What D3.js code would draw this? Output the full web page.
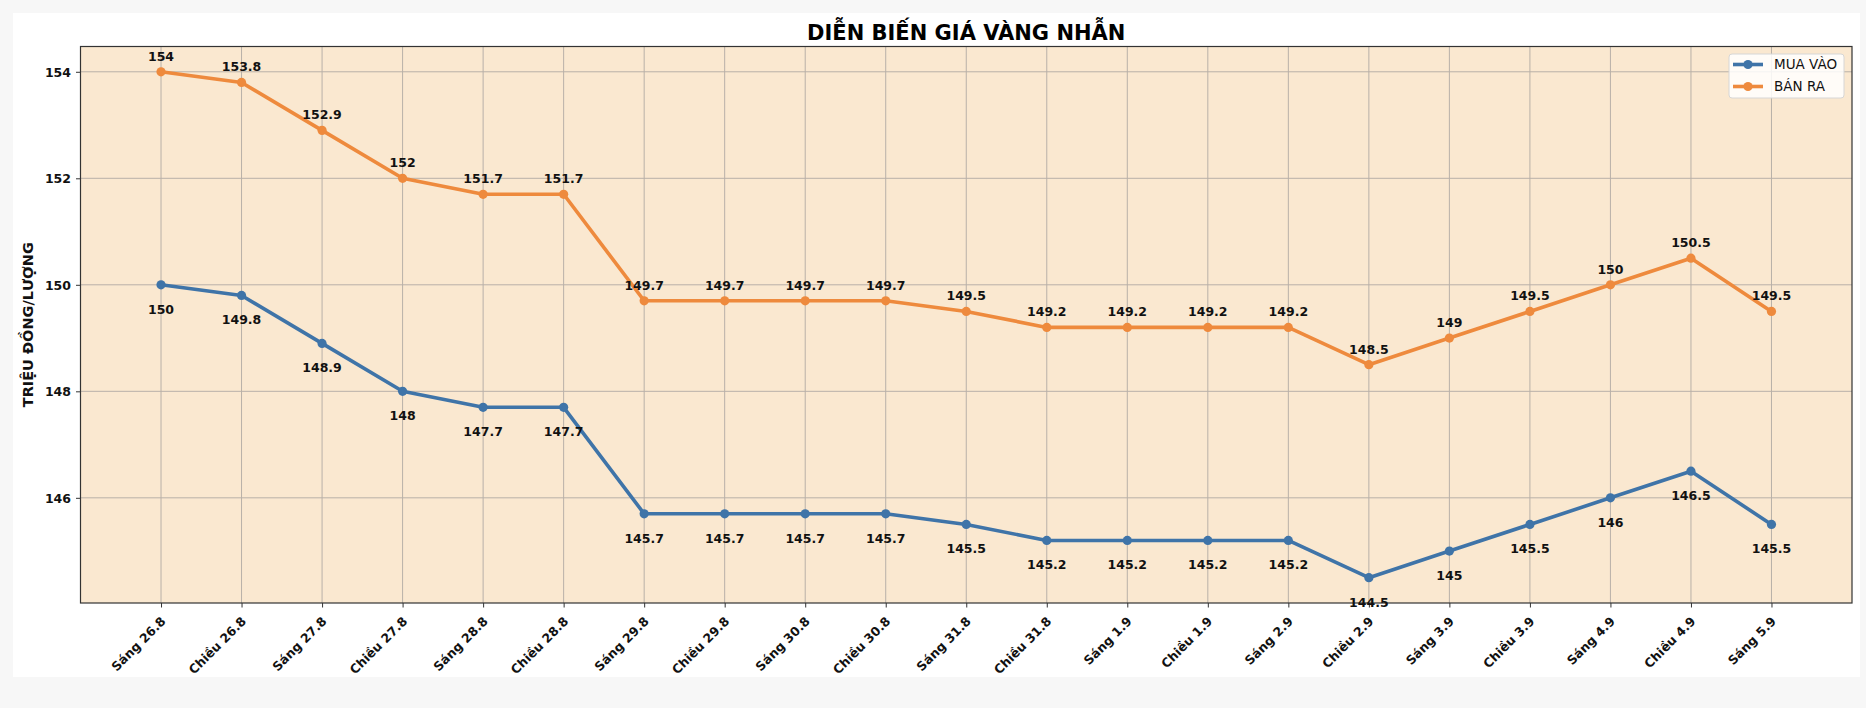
<!DOCTYPE html>
<meta charset="utf-8">
<style>
body { margin: 0; background: #f7f7f7; }
svg { display: block; }
text { font-family: "DejaVu Sans", sans-serif; }
.tick-label { font-weight: bold; font-size: 12.5px; fill: #111; }
.val { font-weight: bold; font-size: 12.5px; fill: #111; }
</style>
<body>
  <script src="https://cdn.jsdelivr.net/npm/d3@7"></script>
  <script>

    // tick labels (x categories)
    var sessions = ["Sáng 26.8", "Chiều 26.8", "Sáng 27.8", "Chiều 27.8", "Sáng 28.8", "Chiều 28.8",
                    "Sáng 29.8", "Chiều 29.8", "Sáng 30.8", "Chiều 30.8", "Sáng 31.8", "Chiều 31.8",
                    "Sáng 1.9", "Chiều 1.9", "Sáng 2.9", "Chiều 2.9", "Sáng 3.9", "Chiều 3.9",
                    "Sáng 4.9", "Chiều 4.9", "Sáng 5.9"];

    // giá mua vào / bán ra (triệu đồng/lượng)
    var muaVao = [150, 149.8, 148.9, 148, 147.7, 147.7, 145.7, 145.7, 145.7, 145.7, 145.5,
                  145.2, 145.2, 145.2, 145.2, 144.5, 145, 145.5, 146, 146.5, 145.5];
    var banRa  = [154, 153.8, 152.9, 152, 151.7, 151.7, 149.7, 149.7, 149.7, 149.7, 149.5,
                  149.2, 149.2, 149.2, 149.2, 148.5, 149, 149.5, 150, 150.5, 149.5];

    var yTicks = [146, 148, 150, 152, 154];

    var width = 1866,
        height = 708;

    // plot box (window.top is reserved, so no bare "top")
    var pL = 80.5, pR = 1852, pT = 46.5, pB = 603;

    var svg = d3.select("body").append("svg")
        .attr("width", width)
        .attr("height", height);

    // figure area
    svg.append("rect")
        .attr("x", 13).attr("y", 13)
        .attr("width", 1847).attr("height", 664)
        .attr("fill", "#fff");

    var allVals = muaVao.concat(banRa);
    var lo = d3.min(allVals), hi = d3.max(allVals), m = (hi - lo) * 0.05;

    var x = d3.scalePoint()
        .domain(sessions)
        .range([pL, pR])
        .padding(1);

    var y = d3.scaleLinear()
        .domain([lo - m, hi + m])
        .range([pB, pT]);

    // axes background
    svg.append("rect")
        .attr("x", pL).attr("y", pT)
        .attr("width", pR - pL).attr("height", pB - pT)
        .attr("fill", "#fae8d0");

    // grid
    var grid = svg.append("g").attr("stroke", "#b8b0a8").attr("stroke-width", 1);
    grid.selectAll(".gx").data(sessions).enter().append("line")
        .attr("x1", function(d) { return x(d); })
        .attr("x2", function(d) { return x(d); })
        .attr("y1", pT).attr("y2", pB);
    grid.selectAll(".gy").data(yTicks).enter().append("line")
        .attr("x1", pL).attr("x2", pR)
        .attr("y1", function(d) { return y(d); })
        .attr("y2", function(d) { return y(d); });

    // axes
    var xAxis = svg.append("g")
        .attr("transform", "translate(0," + pB + ")")
        .call(d3.axisBottom(x).tickSize(4.5).tickSizeOuter(0));
    xAxis.select(".domain").remove();
    xAxis.selectAll("line").attr("stroke", "#333");
    xAxis.selectAll("text")
        .attr("class", "tick-label")
        .attr("text-anchor", "end")
        .attr("x", -10).attr("y", 17).attr("dy", 0)
        .attr("transform", "rotate(-45)");

    var yAxis = svg.append("g")
        .attr("transform", "translate(" + pL + ",0)")
        .call(d3.axisLeft(y).tickValues(yTicks).tickSize(4.5).tickPadding(5).tickFormat(d3.format("d")));
    yAxis.select(".domain").remove();
    yAxis.selectAll("line").attr("stroke", "#333");
    yAxis.selectAll("text").attr("class", "tick-label").attr("dy", "0.35em");

    svg.append("rect")
        .attr("x", pL).attr("y", pT)
        .attr("width", pR - pL).attr("height", pB - pT)
        .attr("fill", "none")
        .attr("stroke", "#333")
        .attr("stroke-width", 1.2);

    var series = [
      { name: "MUA VÀO", values: muaVao, color: "#3f74a8", dy: 29 },
      { name: "BÁN RA",  values: banRa,  color: "#ee8a3d", dy: -11 }
    ];

    var line = d3.line()
        .x(function(d, i) { return x(sessions[i]); })
        .y(function(d) { return y(d); });

    series.forEach(function(s) {
      svg.append("path")
          .datum(s.values)
          .attr("fill", "none")
          .attr("stroke", s.color)
          .attr("stroke-width", 3.6)
          .attr("stroke-linejoin", "round")
          .attr("d", line);

      svg.selectAll(null).data(s.values).enter().append("circle")
          .attr("cx", function(d, i) { return x(sessions[i]); })
          .attr("cy", function(d) { return y(d); })
          .attr("r", 4.6)
          .attr("fill", s.color);
    });

    series.forEach(function(s) {
      svg.selectAll(null).data(s.values).enter().append("text")
          .attr("class", "val")
          .attr("text-anchor", "middle")
          .attr("x", function(d, i) { return x(sessions[i]); })
          .attr("y", function(d) { return y(d) + s.dy; })
          .text(function(d) { return d; });
    });

    // title
    svg.append("text")
        .attr("x", (pL + pR) / 2)
        .attr("y", 40)
        .attr("text-anchor", "middle")
        .style("font-weight", "bold")
        .style("font-size", "21px")
        .attr("fill", "#000")
        .text("DIỄN BIẾN GIÁ VÀNG NHẪN");

    // y label
    svg.append("text")
        .attr("transform", "translate(33," + ((pT + pB) / 2) + ") rotate(-90)")
        .attr("text-anchor", "middle")
        .style("font-weight", "bold")
        .style("font-size", "14.5px")
        .attr("fill", "#111")
        .text("TRIỆU ĐỒNG/LƯỢNG");

    // legend
    var lg = svg.append("g").attr("transform", "translate(1729,54)");
    lg.append("rect")
        .attr("width", 115).attr("height", 44)
        .attr("rx", 3)
        .attr("fill", "#fff").attr("fill-opacity", 0.85)
        .attr("stroke", "#d6d6d6");
    series.forEach(function(s, i) {
      var cy = 10.5 + i * 22;
      lg.append("line")
          .attr("x1", 4).attr("x2", 34)
          .attr("y1", cy).attr("y2", cy)
          .attr("stroke", s.color).attr("stroke-width", 3.6);
      lg.append("circle")
          .attr("cx", 19).attr("cy", cy).attr("r", 4.6)
          .attr("fill", s.color);
      lg.append("text")
          .attr("x", 45).attr("y", cy)
          .attr("dy", "0.36em")
          .style("font-size", "13.5px")
          .attr("fill", "#111")
          .text(s.name);
    });
  </script>
</body>
